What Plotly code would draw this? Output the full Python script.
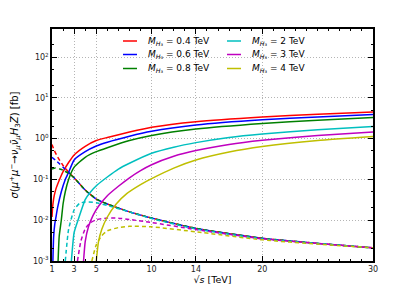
import plotly.graph_objects as go

# ---- data ----
masses = ["0.4", "0.6", "0.8", "2", "3", "4"]
colors = ["#ff0000", "#0000ff", "#008000", "#00bfbf", "#bf00bf", "#bfbf00"]

# solid curves (sqrt(s) in TeV, sigma in fb)
red_x = [1.0, 1.05, 1.1, 1.2, 1.35, 1.5, 1.75, 2, 2.5, 3, 4, 5, 6, 8, 10, 14, 20, 25, 30]
red_y = [0.012, 0.02, 0.027, 0.04, 0.058, 0.075, 0.11, 0.155, 0.26, 0.4, 0.65, 0.9, 1.07, 1.45, 1.9, 2.6, 3.4, 4.0, 4.5]
blue_x = [1.08, 1.15, 1.25, 1.36, 1.5, 1.84, 2.2, 2.5, 3, 4, 5, 6, 8, 10, 14, 20, 25, 30]
blue_y = [0.001, 0.004, 0.008, 0.012, 0.02, 0.05, 0.1, 0.15, 0.3, 0.48, 0.66, 0.82, 1.15, 1.52, 2.16, 2.9, 3.4, 3.9]
green_x = [1.55, 1.65, 1.84, 2.0, 2.2, 2.5, 3, 4, 5, 6, 8, 10, 14, 20, 25, 30]
green_y = [0.001, 0.004, 0.01, 0.025, 0.05, 0.1, 0.2, 0.35, 0.48, 0.6, 0.9, 1.2, 1.73, 2.37, 2.85, 3.3]
cyan_x = [2.75, 3.0, 3.35, 4.0, 4.5, 5.1, 6, 7, 8, 10, 12, 14, 17, 20, 25, 30]
cyan_y = [0.001, 0.005, 0.01, 0.032, 0.05, 0.074, 0.115, 0.18, 0.25, 0.44, 0.62, 0.8, 1.07, 1.3, 1.65, 2.0]
mag_x = [3.85, 4.0, 4.3, 4.7, 5.2, 6, 7, 8, 9, 10, 12, 14, 17, 20, 25, 30]
mag_y = [0.001, 0.003, 0.007, 0.013, 0.022, 0.04, 0.068, 0.11, 0.165, 0.23, 0.37, 0.51, 0.72, 0.91, 1.2, 1.46]
yel_x = [5.0, 5.2, 5.5, 6, 6.8, 7.75, 9, 10, 12, 14, 17, 20, 25, 30]
yel_y = [0.001, 0.003, 0.006, 0.012, 0.025, 0.045, 0.075, 0.105, 0.19, 0.3, 0.47, 0.64, 0.9, 1.13]

# dashed curves
dred_x = [1.0, 1.2, 1.5, 2, 2.5, 3, 4, 5, 6, 8, 10, 14, 20, 25, 30]
dred_y = [0.72, 0.52, 0.36, 0.22, 0.15, 0.11, 0.055, 0.033, 0.025, 0.016, 0.0113, 0.0063, 0.0036, 0.0027, 0.0021]
dblue_x = [1.0, 1.3, 1.7, 2, 2.5, 3, 4, 5, 6, 8, 10, 14, 20, 25, 30]
dblue_y = [0.35, 0.3, 0.24, 0.2, 0.15, 0.11, 0.055, 0.033, 0.025, 0.016, 0.0113, 0.0063, 0.0036, 0.0027, 0.0021]
dgreen_x = [1.0, 1.3, 1.7, 2, 2.5, 3, 4, 5, 6, 8, 10, 14, 20, 25, 30]
dgreen_y = [0.18, 0.19, 0.18, 0.17, 0.14, 0.11, 0.055, 0.033, 0.025, 0.016, 0.0113, 0.0063, 0.0036, 0.0027, 0.0021]
dcyan_x = [2.2, 2.5, 3, 3.5, 4, 5, 6, 8, 10, 14, 20, 25, 30]
dcyan_y = [0.001, 0.006, 0.018, 0.026, 0.028, 0.027, 0.023, 0.016, 0.011, 0.0061, 0.0035, 0.0027, 0.0021]
dmag_x = [3.3, 3.6, 4, 4.5, 5, 6, 7, 8, 10, 14, 20, 25, 30]
dmag_y = [0.001, 0.003, 0.0062, 0.0088, 0.0103, 0.0113, 0.0112, 0.0104, 0.0088, 0.0059, 0.0035, 0.0027, 0.0021]
dyel_x = [4.6, 5, 5.5, 6, 7, 8, 10, 14, 20, 25, 30]
dyel_y = [0.001, 0.0025, 0.0042, 0.0055, 0.0066, 0.0071, 0.0069, 0.0052, 0.0033, 0.0026, 0.0021]

x_ticks = [1, 3, 5, 10, 14, 20, 30]
y_ticks = [1e-3, 1e-2, 1e-1, 1e0, 1e1, 1e2]
y_ticktext = ["10<sup>-3</sup>", "10<sup>-2</sup>", "10<sup>-1</sup>", "10<sup>0</sup>", "10<sup>1</sup>", "10<sup>2</sup>"]

solid = [(red_x, red_y), (blue_x, blue_y), (green_x, green_y), (cyan_x, cyan_y), (mag_x, mag_y), (yel_x, yel_y)]
dashed = [(dred_x, dred_y), (dblue_x, dblue_y), (dgreen_x, dgreen_y), (dcyan_x, dcyan_y), (dmag_x, dmag_y), (dyel_x, dyel_y)]

fig = go.Figure()
for i, ((sx, sy), (dx, dy)) in enumerate(zip(solid, dashed)):
    fig.add_trace(go.Scatter(x=sx, y=sy, mode="lines", showlegend=False,
                             line=dict(color=colors[i], width=1.5, shape="spline", smoothing=0.5)))
    fig.add_trace(go.Scatter(x=dx, y=dy, mode="lines", showlegend=False,
                             line=dict(color=colors[i], width=1.5, dash="4px,3px", shape="spline", smoothing=0.5)))

# page body has an 8px default margin, so the figure is shifted by 8px
FW, FH = 407, 283
L, T, W, H = 44, 21, 321, 232
def px(x):
    return (x - 8 - L) / W
def py(y):
    return (T + H - (y - 8)) / H
rows = [41, 54.5, 68.5]
cols = [(123, 137, 146), (227, 241, 250)]
for i in range(6):
    c = cols[i // 3]
    r = rows[i % 3]
    fig.add_shape(type="line", xref="paper", yref="paper", x0=px(c[0]), x1=px(c[1]), y0=py(r), y1=py(r),
                  line=dict(color=colors[i], width=1.5))
    fig.add_annotation(xref="paper", yref="paper", x=px(c[2]), y=py(r), xanchor="left", yanchor="middle",
                       showarrow=False, text="<i>M</i><sub><i>H</i>₃</sub> = %s TeV" % masses[i],
                       font=dict(size=9, color="black"))

axis_common = dict(showline=True, linecolor="black", linewidth=1.5, mirror="allticks",
                   ticks="inside", ticklen=5, tickcolor="black", automargin=False,
                   showgrid=True, gridcolor="#b4b4b4", griddash="1px,2px", gridwidth=0.8,
                   zeroline=False, tickfont=dict(size=8, color="#222"))

fig.update_layout(
    width=FW, height=FH,
    margin=dict(l=L, r=FW - L - W, t=T, b=FH - T - H),
    paper_bgcolor="white", plot_bgcolor="white",
    font=dict(family="DejaVu Sans", color="black"),
    showlegend=False,
    xaxis=dict(range=[1, 30], tickmode="array", tickvals=x_ticks,
               ticktext=[str(v) for v in x_ticks],
               minor=dict(tickmode="array", tickvals=list(range(1, 31)), ticks="inside",
                          ticklen=2.5, tickcolor="black", showgrid=False),
               title=dict(text="√<i>s</i> [TeV]", font=dict(size=9.5), standoff=0),
               **axis_common),
    yaxis=dict(type="log", range=[-3, 2.69], tickmode="array", tickvals=y_ticks,
               ticktext=y_ticktext,
               minor=dict(ticks="inside", ticklen=2.5, tickcolor="black", showgrid=False),
               title=dict(text="<i>σ</i>(<i>μ</i><sup>+</sup><i>μ</i><sup>−</sup>→<i>ν<sub>μ</sub></i><i>ν̄<sub>μ</sub></i><i>H</i><sub>3</sub><i>Z</i>) [fb]",
                          font=dict(size=10), standoff=16),
               **axis_common),
)

fig.write_html("out.html")
